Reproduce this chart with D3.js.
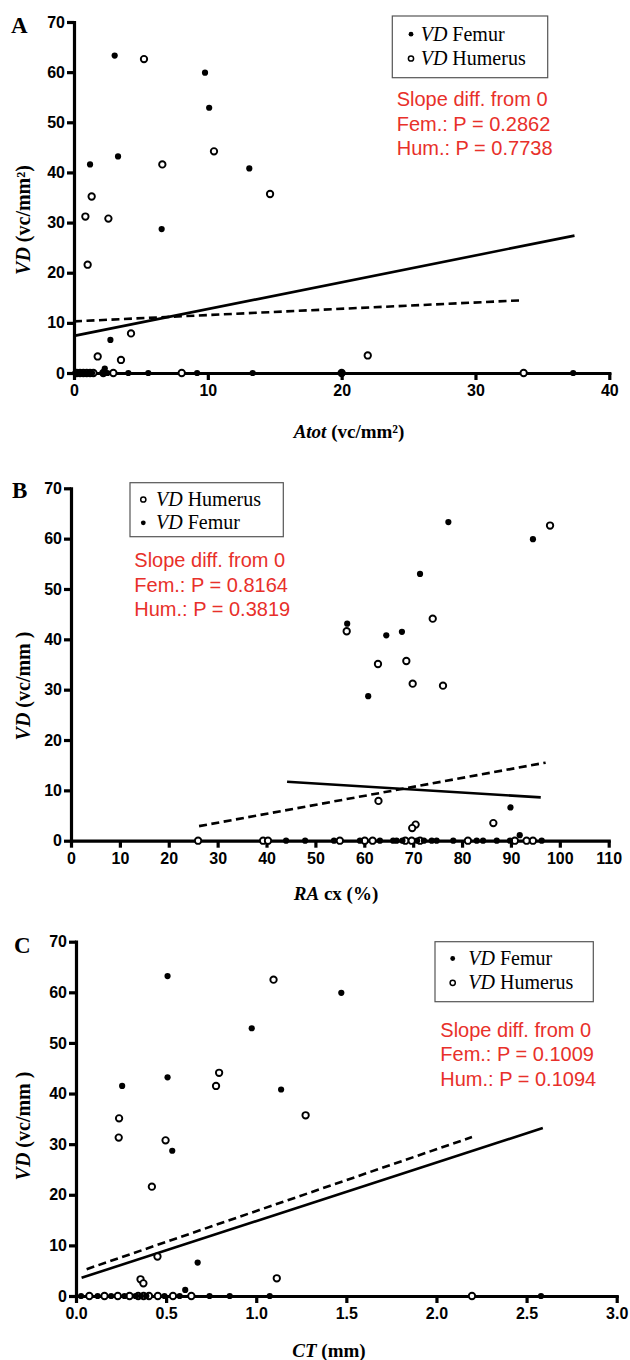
<!DOCTYPE html>
<html>
<head>
<meta charset="utf-8">
<script src="https://d3js.org/d3.v7.min.js"></script>
<style>
  body { margin: 0; background: #fff; }
  .tick text { font-family: "Liberation Sans", Arial, sans-serif; font-weight: bold; font-size: 16px; fill: #000; }
  .serif { font-family: "Liberation Serif", "Times New Roman", serif; }
  .red { font-family: "Liberation Sans", Arial, sans-serif; font-size: 20px; fill: #e8302a; }
</style>
</head>
<body>
<script>
// ---- data ----
// panel A : x = Atot (vc/mm2)
var aFemX = [3.04, 9.79, 10.1, 1.2, 3.29, 13.1, 6.55, 2.72, 2.3,
             0.1, 0.35, 0.6, 0.85, 1.1, 1.35, 2.2, 2.5, 4.06, 5.55, 9.2, 13.35, 20.0, 37.3];
var aFemY = [63.3, 59.9, 52.9, 41.6, 43.2, 40.8, 28.7, 6.6, 0.9,
             0, 0, 0, 0, 0, 0, 0, 0, 0, 0, 0, 0, 0, 0];
var aHumX = [5.23, 6.6, 10.46, 1.32, 0.85, 2.57, 1.02, 14.65, 4.26, 1.77, 3.51, 21.95,
             0.2, 0.45, 0.7, 0.95, 1.2, 1.45, 2.19, 2.94, 8.05, 20.0, 33.6];
var aHumY = [62.6, 41.6, 44.2, 35.2, 31.2, 30.8, 21.6, 35.7, 7.9, 3.3, 2.6, 3.5,
             0, 0, 0, 0, 0, 0, 0, 0, 0, 0, 0];
var aFemFit = [[0, 7.4], [37.4, 27.4]];
var aHumFit = [[0, 10.3], [33.5, 14.5]];
var aTicksX = [0, 10, 20, 30, 40];
var aP = ["0.2862", "0.7738"];

// panel B : x = RA cx (%)
var bFemX = [77.2, 94.5, 71.4, 56.5, 64.5, 67.7, 60.8, 89.9, 91.8,
             44.0, 47.9, 53.8, 59.1, 63.2, 65.9, 66.6, 67.8, 70.8, 72.2, 73.8, 74.8, 78.2, 83.0, 84.3, 87.1, 89.8, 96.3];
var bFemY = [63.3, 59.9, 53.0, 43.1, 40.8, 41.5, 28.7, 6.6, 1.1,
             0, 0, 0, 0, 0, 0, 0, 0, 0, 0, 0, 0, 0, 0, 0, 0, 0, 0];
var bHumX = [98.0, 56.4, 74.0, 62.8, 68.6, 69.9, 76.1, 62.9, 86.4, 70.5, 69.8,
             26.0, 39.3, 40.3, 55.0, 60.1, 61.7, 68.4, 69.7, 71.4, 81.2, 90.8, 93.2, 94.5];
var bHumY = [62.6, 41.6, 44.1, 35.1, 35.7, 31.2, 30.8, 7.9, 3.5, 3.2, 2.5,
             0, 0, 0, 0, 0, 0, 0, 0, 0, 0, 0, 0, 0];
var bFemFit = [[44.2, 11.7], [96.1, 8.6]];
var bHumFit = [[26.2, 2.9], [97.1, 15.5]];
var bTicksX = [0, 10, 20, 30, 40, 50, 60, 70, 80, 90, 100, 110];
var bP = ["0.8164", "0.3819"];

// panel C : x = CT (mm)
var cFemX = [0.508, 0.975, 0.256, 0.508, 1.138, 0.534, 0.675, 0.606, 1.472,
             0.028, 0.12, 0.195, 0.269, 0.33, 0.36, 0.39, 0.491, 0.575, 0.741, 0.853, 1.075, 2.58];
var cFemY = [63.2, 52.9, 41.5, 43.2, 40.8, 28.7, 6.6, 1.2, 59.9,
             0, 0, 0, 0, 0, 0, 0, 0, 0, 0, 0, 0, 0];
var cHumX = [1.096, 0.794, 0.777, 0.239, 0.237, 0.497, 0.421, 0.452, 0.358, 0.374, 1.114, 1.274,
             0.074, 0.158, 0.232, 0.297, 0.345, 0.375, 0.405, 0.454, 0.538, 0.64, 2.197];
var cHumY = [62.5, 44.1, 41.5, 35.1, 31.3, 30.75, 21.6, 7.8, 3.3, 2.5, 3.5, 35.7,
             0, 0, 0, 0, 0, 0, 0, 0, 0, 0, 0];
var cFemFit = [[0.031, 3.6], [2.59, 33.2]];
var cHumFit = [[0.059, 5.3], [2.197, 31.4]];
var cTicksX = [0, 0.5, 1.0, 1.5, 2.0, 2.5, 3.0];
var cP = ["0.1009", "0.1094"];

var ticksY = [0, 10, 20, 30, 40, 50, 60, 70];

var svg = d3.select("body").append("svg").attr("width", 630).attr("height", 1360);

function zip(xs, ys) { return xs.map(function(x, i) { return [x, ys[i]]; }); }

function panel(p) {
  var g = svg.append("g");
  var x = d3.scaleLinear().domain(p.xDom).range(p.xRange);
  var y = d3.scaleLinear().domain([0, 70]).range(p.yRange);

  g.append("g").attr("transform", "translate(0," + p.yRange[0] + ")")
    .call(d3.axisBottom(x).tickValues(p.ticksX).tickFormat(p.fmt).tickSize(7).tickSizeOuter(0).tickPadding(5));
  g.append("g").attr("transform", "translate(" + p.xRange[0] + ",0)")
    .call(d3.axisLeft(y).tickValues(ticksY).tickSize(7).tickSizeOuter(0).tickPadding(2));
  g.selectAll(".domain, .tick line").style("stroke", "#000").style("stroke-width", "3.2px");
  g.selectAll(".domain").style("stroke-linecap", "square");

  var line = d3.line().x(function(d) { return x(d[0]); }).y(function(d) { return y(d[1]); });
  g.append("path").attr("d", line(p.femFit)).attr("fill", "none").attr("stroke", "#000").attr("stroke-width", 2.6);
  g.append("path").attr("d", line(p.humFit)).attr("fill", "none").attr("stroke", "#000").attr("stroke-width", 2.6)
    .attr("stroke-dasharray", "8,4.5");

  g.selectAll(".hum").data(zip(p.humX, p.humY)).enter().append("circle")
    .attr("cx", function(d) { return x(d[0]); }).attr("cy", function(d) { return y(d[1]); })
    .attr("r", 3.2).attr("fill", "#fff").attr("stroke", "#000").attr("stroke-width", 1.9);
  g.selectAll(".fem").data(zip(p.femX, p.femY)).enter().append("circle")
    .attr("cx", function(d) { return x(d[0]); }).attr("cy", function(d) { return y(d[1]); })
    .attr("r", 3.1).attr("fill", "#000");

  // panel letter
  g.append("text").attr("class", "serif").attr("x", p.letter[0]).attr("y", p.letter[1])
    .attr("font-size", 23).attr("font-weight", "bold").text(p.name);

  // y title
  var yt = g.append("text").attr("class", "serif").attr("font-size", 20).attr("font-weight", "bold")
    .attr("text-anchor", "middle").attr("transform", "translate(30," + p.yTitle + ") rotate(-90)");
  yt.append("tspan").attr("font-style", "italic").text("VD");
  yt.append("tspan").text(p.yUnit);

  // x title
  var xt = g.append("text").attr("class", "serif").attr("font-size", 19).attr("font-weight", "bold")
    .attr("text-anchor", "middle").attr("x", p.xTitle[0]).attr("y", p.xTitle[1]);
  xt.append("tspan").attr("font-style", "italic").text(p.xName);
  xt.append("tspan").text(p.xUnit);

  // legend
  var L = p.legend;
  g.append("rect").attr("x", L.box[0]).attr("y", L.box[1]).attr("width", L.box[2]).attr("height", L.box[3])
    .attr("fill", "none").attr("stroke", "#555").attr("stroke-width", 1.2);
  L.items.forEach(function(it, i) {
    var yy = L.y[i];
    if (it == "Femur") {
      g.append("circle").attr("cx", L.mx).attr("cy", yy - 6.5).attr("r", 2.4).attr("fill", "#000");
    } else {
      g.append("circle").attr("cx", L.mx).attr("cy", yy - 6.5).attr("r", 2.6).attr("fill", "#fff")
        .attr("stroke", "#000").attr("stroke-width", 1.5);
    }
    var t = g.append("text").attr("class", "serif").attr("font-size", 20).attr("x", L.tx).attr("y", yy);
    t.append("tspan").attr("font-style", "italic").text("VD");
    t.append("tspan").text(" " + it);
  });

  // slope annotation
  var lines = ["Slope diff. from 0", "Fem.: P = " + p.pv[0], "Hum.: P = " + p.pv[1]];
  lines.forEach(function(s, i) {
    g.append("text").attr("class", "red").attr("x", p.red[0]).attr("y", p.red[1] + i * 24.5).text(s);
  });
}

panel({
  name: "A", letter: [11, 33],
  xDom: [0, 40], xRange: [74, 609.3], yRange: [373, 22], ticksX: aTicksX, fmt: d3.format("d"),
  femX: aFemX, femY: aFemY, humX: aHumX, humY: aHumY, femFit: aFemFit, humFit: aHumFit,
  yTitle: 220, yUnit: " (vc/mm\u00b2)", xTitle: [349, 438], xName: "Atot", xUnit: " (vc/mm\u00b2)",
  legend: { box: [392.3, 16, 155.4, 61.7], mx: 411, tx: 420.7, y: [40.7, 65], items: ["Femur", "Humerus"] },
  red: [396.7, 106], pv: aP
});

panel({
  name: "B", letter: [12, 498],
  xDom: [0, 110], xRange: [71, 608.7], yRange: [840.7, 488.3], ticksX: bTicksX, fmt: d3.format("d"),
  femX: bFemX, femY: bFemY, humX: bHumX, humY: bHumY, femFit: bFemFit, humFit: bHumFit,
  yTitle: 686, yUnit: " (vc/mm  )", xTitle: [336, 900], xName: "RA", xUnit: " cx (%)",
  legend: { box: [130, 482.7, 153.3, 54], mx: 143.3, tx: 156, y: [506, 529.3], items: ["Humerus", "Femur"] },
  red: [134.3, 567.3], pv: bP
});

panel({
  name: "C", letter: [14, 953],
  xDom: [0, 3], xRange: [76, 616.7], yRange: [1296, 941.7], ticksX: cTicksX, fmt: d3.format(".1f"),
  femX: cFemX, femY: cFemY, humX: cHumX, humY: cHumY, femFit: cFemFit, humFit: cHumFit,
  yTitle: 1126, yUnit: " (vc/mm  )", xTitle: [329, 1357], xName: "CT", xUnit: " (mm)",
  legend: { box: [435, 941.7, 158.3, 60], mx: 452.7, tx: 468.3, y: [965, 989.3], items: ["Femur", "Humerus"] },
  red: [440.3, 1036.7], pv: cP
});
</script>
</body>
</html>
